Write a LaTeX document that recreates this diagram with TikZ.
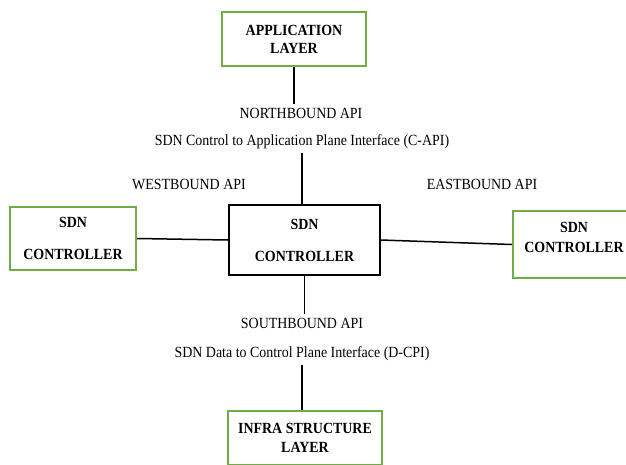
\documentclass[tikz,border=0pt]{standalone}
\usepackage{fontspec}
\setmainfont[FakeStretch=0.9]{Liberation Serif}
\usepackage{xcolor}
\usepackage{tikz}
\definecolor{boxgreen}{RGB}{112,173,71}

\begin{document}
\begin{tikzpicture}[x=1pt,y=-1pt,font=\fontsize{15.5}{18}\selectfont,
layerbox/.style={draw=boxgreen,line width=2.2pt,align=center,inner sep=0pt,font=\fontsize{15.5}{18}\selectfont\bfseries},
ctrlbox/.style={draw,line width=1.6pt,align=center,inner sep=0pt,font=\fontsize{15.5}{18}\selectfont\bfseries},
link/.style={line width=1.5pt}]
\useasboundingbox (0,0) rectangle (626,464);
\clip (0,0) rectangle (626,464);
\node [layerbox,minimum width=144,minimum height=54] (app) at (294,39) {APPLICATION\\LAYER};
\node (nb) at (301,113) {NORTHBOUND API};
\node (capi) at (302,142) {SDN Control to Application Plane Interface (C-API)};
\node (wb) at (189,184) {WESTBOUND API};
\node (eb) at (482,184) {EASTBOUND API};
\node [ctrlbox,minimum width=151,minimum height=70] (ctrl) at (304.5,240) {SDN\\[14pt]CONTROLLER};
\node [layerbox,minimum width=126,minimum height=63] (west) at (73,238.5) {SDN\\[14pt]CONTROLLER};
\node [layerbox,minimum width=122,minimum height=67,text depth=15pt] (east) at (574,244.5) {SDN\\[2pt]CONTROLLER};
\node (sb) at (302,323) {SOUTHBOUND API};
\node (dcpi) at (302,354) {SDN Data to Control Plane Interface (D-CPI)};
\node [layerbox,minimum width=154,minimum height=54] (infra) at (305,438) {INFRA STRUCTURE\\[1pt]LAYER};
\draw [link] (app.south) -- (app.south |- nb.north);
\draw [link] (capi.south) -- (capi.south |- ctrl.north);
\draw [link] (ctrl.south) -- (ctrl.south |- sb.north);
\draw [link] (dcpi.south) -- (dcpi.south |- infra.north);
\draw [link] (west.east) -- (ctrl.west);
\draw [link] (ctrl.east) -- (east.west);
\end{tikzpicture}
\end{document}
